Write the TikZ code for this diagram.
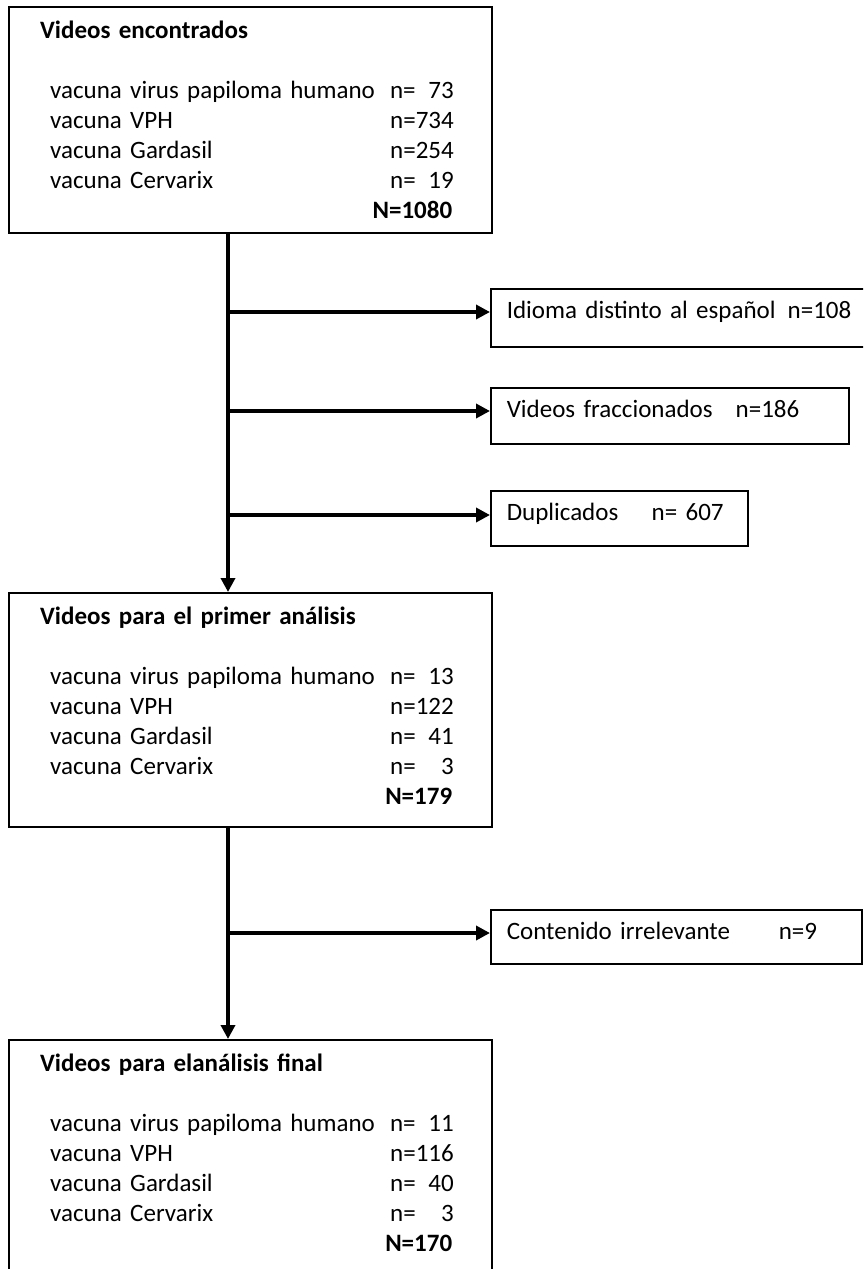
\documentclass[tikz,border=0pt]{standalone}
\usepackage{fontspec}
\setmainfont{Carlito}
\usetikzlibrary{arrows.meta}
\begin{document}
\begin{tikzpicture}[x=1pt,y=-1pt,
    font=\fontsize{25}{30}\selectfont,
    mainbox/.style={draw,line width=1.6pt,anchor=north west,minimum width=483pt,inner sep=0pt},
    listtext/.style={anchor=north west,inner sep=0pt,text width=419pt,align=left},
    sidebox/.style={draw,line width=1.6pt,anchor=north west,inner xsep=16pt,inner ysep=0pt,text height=30pt,align=left},
    flow/.style={line width=3.5pt,-{Triangle[length=14pt,width=14pt]}}]
  \useasboundingbox (0,0) rectangle (863,1269);
  \clip (0,0) rectangle (863,1269);

  \node[mainbox,minimum height=226pt] (found) at (8,6) {};
  \node[listtext] (foundlist) at ([shift={(32,12)}]found.north west) {\rule{0pt}{20pt}\textbf{Videos encontrados}\\[30pt]
    \hspace*{10pt}\makebox[340pt][l]{vacuna virus papiloma humano}n=\phantom{0}73\\
    \hspace*{10pt}\makebox[340pt][l]{vacuna VPH}n=734\\
    \hspace*{10pt}\makebox[340pt][l]{vacuna Gardasil}n=254\\
    \hspace*{10pt}\makebox[340pt][l]{vacuna Cervarix}n=\phantom{0}19\\
    \hspace*{10pt}\makebox[402pt][r]{\textbf{N=1080}}};

  \node[mainbox,minimum height=234pt] (first) at (8,592) {};
  \node[listtext] (firstlist) at ([shift={(32,12)}]first.north west) {\rule{0pt}{20pt}\textbf{Videos para el primer análisis}\\[30pt]
    \hspace*{10pt}\makebox[340pt][l]{vacuna virus papiloma humano}n=\phantom{0}13\\
    \hspace*{10pt}\makebox[340pt][l]{vacuna VPH}n=122\\
    \hspace*{10pt}\makebox[340pt][l]{vacuna Gardasil}n=\phantom{0}41\\
    \hspace*{10pt}\makebox[340pt][l]{vacuna Cervarix}n=\phantom{00}3\\
    \hspace*{10pt}\makebox[402pt][r]{\textbf{N=179}}};

  \node[mainbox,minimum height=240pt] (final) at (8,1039) {};
  \node[listtext] (finallist) at ([shift={(32,12)}]final.north west) {\rule{0pt}{20pt}\textbf{Videos para elanálisis final}\\[30pt]
    \hspace*{10pt}\makebox[340pt][l]{vacuna virus papiloma humano}n=\phantom{0}11\\
    \hspace*{10pt}\makebox[340pt][l]{vacuna VPH}n=116\\
    \hspace*{10pt}\makebox[340pt][l]{vacuna Gardasil}n=\phantom{0}40\\
    \hspace*{10pt}\makebox[340pt][l]{vacuna Cervarix}n=\phantom{00}3\\
    \hspace*{10pt}\makebox[402pt][r]{\textbf{N=170}}};

  \node[sidebox,text width=353pt,text depth=28pt] (lang) at (490,288) {\makebox[281pt][l]{Idioma distinto al español}n=108};
  \node[sidebox,text width=326pt,text depth=26pt] (frac) at (490,387) {\makebox[229pt][l]{Videos fraccionados}n=186};
  \node[sidebox,text width=225pt,text depth=25pt] (dup) at (490,490) {\makebox[145pt][l]{Duplicados}n= 607};
  \node[sidebox,text width=339pt,text depth=24pt] (irrel) at (490,909) {\makebox[272pt][l]{Contenido irrelevante}n=9};

  \coordinate (t1) at (228,312);
  \coordinate (t2) at (228,411);
  \coordinate (t3) at (228,515);
  \coordinate (t4) at (228,933);

  \begin{scope}[flow]
    \draw (found.south -| t1) -- (first.north -| t1);
    \draw (t1) -- (t1 -| lang.west);
    \draw (t2) -- (t2 -| frac.west);
    \draw (t3) -- (t3 -| dup.west);
    \draw (first.south -| t4) -- (final.north -| t4);
    \draw (t4) -- (t4 -| irrel.west);
  \end{scope}
\end{tikzpicture}
\end{document}
